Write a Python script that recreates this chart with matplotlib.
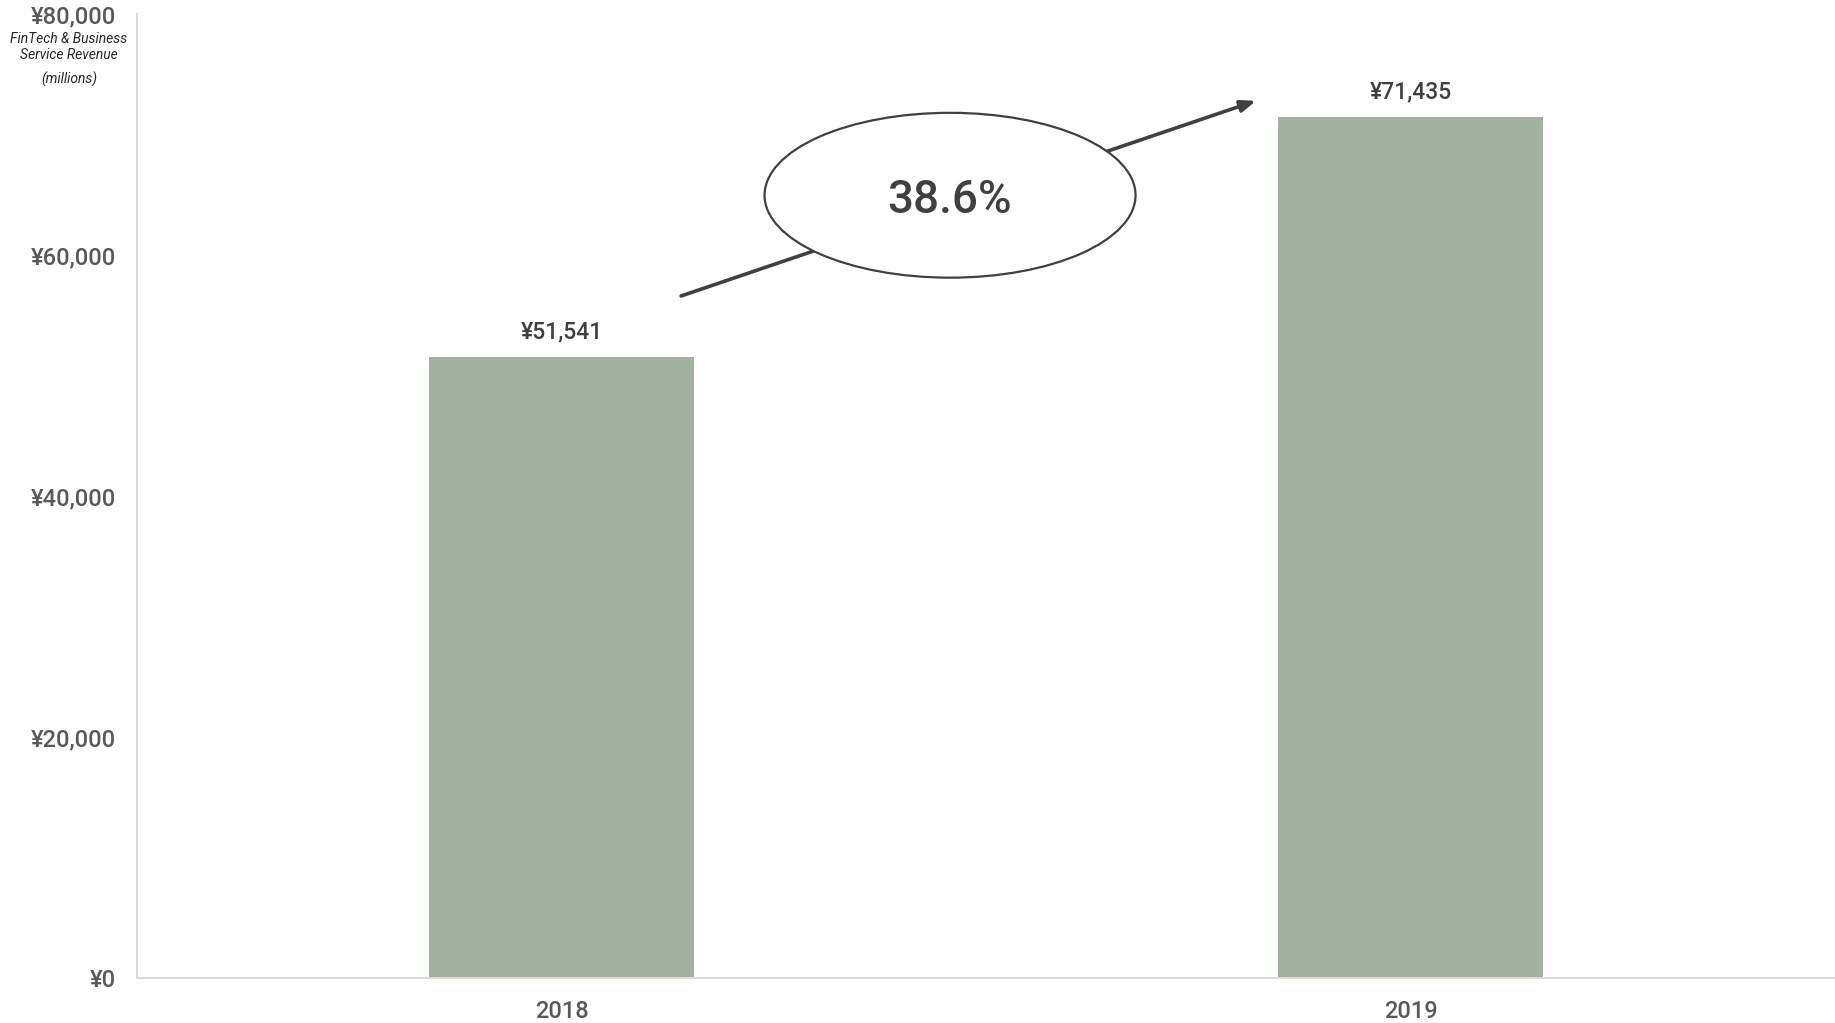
import matplotlib
matplotlib.use("Agg")
import matplotlib.pyplot as plt
from matplotlib.patches import Ellipse
from matplotlib.ticker import FuncFormatter

categories = ["2018", "2019"]
revenue = [51541, 71435]
growth_label = "38.6%"
yticks = [0, 20000, 40000, 60000, 80000]

plt.rcParams['font.family'] = ['Roboto', 'DejaVu Sans']

fig = plt.figure(figsize=(18.35, 10.23), dpi=100)
ax = fig.add_axes([0.0747, 0.044, 0.9253, 0.9423])

x = list(range(len(categories)))
bars = ax.bar(x, revenue, width=0.313, color="#A3B1A0", zorder=2)
ax.set_xlim(-0.5, len(categories) - 0.5)
ax.set_ylim(0, 80000)
ax.set_xticks(x)
ax.set_xticklabels(categories)
ax.set_yticks(yticks)
ax.yaxis.set_major_formatter(FuncFormatter(lambda v, p: f"¥{int(v):,}"))
ax.tick_params(axis='both', length=0, labelsize=17, labelcolor="#595959")
for lbl in ax.get_xticklabels() + ax.get_yticklabels():
    lbl.set_fontweight("medium")
ax.tick_params(axis='y', pad=15)
ax.tick_params(axis='x', pad=16)
for s in ["top", "right"]:
    ax.spines[s].set_visible(False)
for s in ["left", "bottom"]:
    ax.spines[s].set_color("#d9d9d9")
    ax.spines[s].set_linewidth(1.5)

for xi, v in zip(x, revenue):
    ax.annotate(f"¥{v:,}", (xi, v), xytext=(0, 10), textcoords="offset points",
                ha="center", va="bottom", fontsize=16.5, color="#404040",
                fontweight="medium")

# arrow
ax.annotate("", xy=(0.659, 0.910), xytext=(0.3204, 0.7075), xycoords="axes fraction",
            textcoords="axes fraction",
            arrowprops=dict(arrowstyle="-|>,head_length=0.9,head_width=0.35",
                            color="#404040", lw=2.6, shrinkA=0, shrinkB=0), zorder=3)
ell = Ellipse((0.4788, 0.812), 0.2185, 0.171, transform=ax.transAxes,
              facecolor="white", edgecolor="#404040", lw=1.6, zorder=4)
ax.add_patch(ell)
ax.text(0.4788, 0.807, growth_label, transform=ax.transAxes, ha="center", va="center",
        fontsize=33, color="#404040", fontweight="medium", zorder=5)

# y-axis title
fig.text(69/1835, 1 - 47/1023, "FinTech & Business\nService Revenue", ha="center", va="center",
         fontsize=10, style="italic", color="#262626", linespacing=1.2)
fig.text(69/1835, 1 - 79/1023, "(millions)", ha="center", va="center",
         fontsize=10, style="italic", color="#262626")

fig.savefig("out.png", dpi=100)
